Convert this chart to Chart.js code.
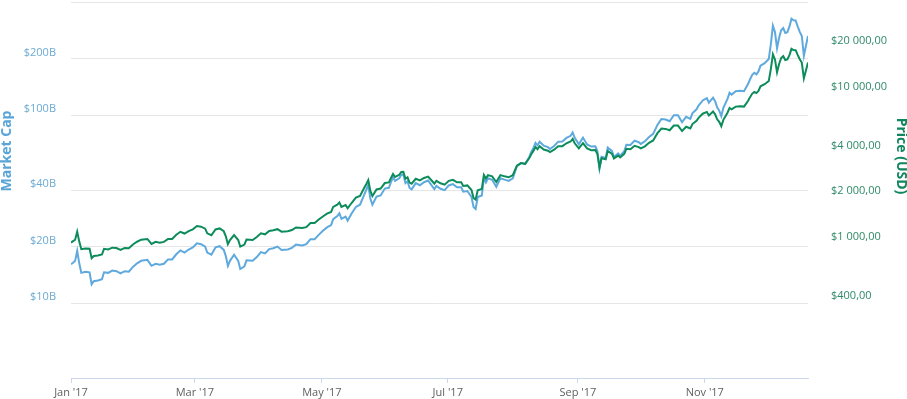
<!DOCTYPE html>
<html>
<head>
<meta charset="utf-8">
<title>Bitcoin 2017 - Market Cap / Price</title>
<script src="https://cdn.jsdelivr.net/npm/chart.js@4.4.1/dist/chart.umd.min.js"></script>
<style>
    html, body { margin: 0; padding: 0; background: #ffffff; }
    #wrap { position: relative; width: 907px; height: 399px; }
</style>
</head>
<body>
<div id="wrap"><canvas id="chart"></canvas></div>
<script>
// Day of the year (0 = 1 Jan 2017) for every sample
const days = [
    0, 1, 2, 3, 4, 5, 7, 9, 10, 11, 13, 15, 16, 18, 20, 22, 24, 26, 28, 30, 32, 34, 37, 39, 41, 43, 45,
    47, 49, 51, 53, 55, 57, 59, 61, 63, 65, 66, 68, 70, 72, 74, 75, 76, 77, 79, 81, 82, 84, 85, 88, 90,
    92, 94, 96, 98, 100, 102, 105, 107, 109, 112, 114, 116, 118, 120, 122, 124, 126, 127, 129, 130, 131, 133, 134,
    136, 138, 140, 142, 143, 144, 145, 146, 148, 150, 152, 154, 155, 156, 157, 159, 160, 161, 162, 163,
    164, 165, 167, 169, 171, 173, 175, 176, 177, 179,
    181, 183, 185, 187, 189, 190, 192, 194, 195, 196, 197, 199, 200, 201, 202, 204, 206, 208, 210, 212,
    214, 216, 218, 220, 222, 223, 224, 225,
    226, 227, 229, 231, 232, 234, 236, 238, 240, 242, 243, 244, 246, 248, 250, 252, 254, 255, 256, 257,
    259, 260, 262, 263, 265, 266, 268, 269,
    271, 273, 275, 276, 278, 280, 282, 284, 286, 288, 290, 292, 294, 296, 298, 300, 301, 303, 304, 306,
    308, 309, 311, 312, 313, 314, 315,
    316, 318, 319, 320, 322, 324, 326, 328, 329, 330, 331, 332, 333, 334, 336, 338, 339, 340, 341, 342,
    343, 344, 345, 346, 347, 348, 349, 350, 351, 352, 353, 354, 355, 356, 357
];

// Market cap, billions of USD
const marketCap = [
    16.1, 16.4, 16.8, 19.0, 16.3, 14.5, 14.7, 14.6, 12.6, 13.1, 13.2, 13.4, 14.6, 14.5, 14.9, 14.8, 14.4, 14.8, 14.7, 15.6, 16.3, 16.8, 17.0, 15.8, 16.2, 16.0, 16.2,
    17.1, 17.1, 18.2, 19.1, 18.6, 19.3, 19.8, 20.8, 20.6, 20.0, 18.6, 18.1, 19.8, 20.1, 19.2, 17.8, 15.8, 16.8, 18.1, 16.8, 15.2, 15.7, 16.9, 16.8, 17.6,
    18.7, 18.4, 19.4, 19.6, 20.0, 19.2, 19.3, 19.7, 20.5, 20.3, 20.6, 21.9, 21.9, 23.1, 24.3, 25.3, 26.0, 28.0, 29.1, 30.1, 28.1, 28.9, 27.5,
    30.1, 32.5, 33.4, 37.7, 40.0, 42.6, 36.0, 33.4, 36.9, 37.4, 40.7, 41.1, 44.1, 46.9, 44.7, 46.2, 48.2, 48.4, 43.5, 44.5,
    41.0, 40.3, 43.5, 42.4, 44.0, 44.9, 41.9, 40.4, 42.1, 40.6,
    39.9, 42.3, 43.0, 41.4, 41.4, 39.2, 39.5, 36.7, 32.5, 31.7, 36.7, 37.4, 46.3, 43.9, 46.2, 45.3, 41.6, 46.2, 45.4, 44.7,
    46.1, 53.5, 55.6, 55.0, 60.0, 63.9, 67.0, 71.2,
    69.1, 72.3, 68.8, 67.6, 66.1, 68.6, 72.3, 72.4, 75.7, 77.7, 80.9, 75.7, 70.0, 76.0, 69.9, 68.1, 68.3, 64.2, 52.1, 60.1,
    59.2, 67.2, 64.6, 60.0, 62.7, 60.9, 64.3, 69.6,
    69.4, 73.2, 71.8, 70.3, 72.6, 76.6, 79.5, 88.5, 95.4, 94.9, 92.9, 99.9, 99.9, 91.8, 98.1, 95.6, 102.3, 107.5, 112.5, 119.8,
    123.1, 116.7, 124.0, 118.7, 110.0, 105.7, 98.9,
    109.5, 122.2, 131.5, 128.7, 134.2, 134.8, 134.2, 146.8, 155.8, 164.0, 168.0, 165.1, 170.9, 183.3, 189.1, 199.0, 238.7, 298.9, 276.7, 227.1,
    258.1, 282.8, 290.8, 274.0, 276.6, 295.7, 325.6, 319.6, 319.2, 296.9, 277.6, 263.9, 207.1, 233.8, 263.9
];

// Price, USD
const priceUsd = [
    998, 1021, 1043, 1180, 1013, 902, 911, 907, 785, 812, 818, 831, 907, 899, 923, 918, 891, 919, 914, 970, 1011, 1044, 1055, 978, 1009, 996, 1009,
    1055, 1056, 1125, 1178, 1147, 1189, 1223, 1286, 1273, 1235, 1150, 1117, 1221, 1240, 1187, 1100, 973, 1036, 1120, 1038, 937, 967, 1045, 1038, 1087,
    1150, 1133, 1191, 1205, 1226, 1180, 1187, 1209, 1258, 1249, 1265, 1346, 1348, 1421, 1490, 1555, 1596, 1723, 1787, 1848, 1725, 1776, 1688,
    1839, 1987, 2041, 2303, 2443, 2600, 2202, 2038, 2255, 2286, 2488, 2511, 2691, 2863, 2732, 2823, 2947, 2958, 2659, 2717,
    2506, 2464, 2655, 2590, 2689, 2745, 2557, 2468, 2574, 2480,
    2426, 2572, 2616, 2519, 2519, 2382, 2400, 2233, 1975, 1929, 2228, 2273, 2817, 2668, 2810, 2754, 2529, 2809, 2757, 2718,
    2805, 3252, 3378, 3342, 3650, 3884, 4073, 4325,
    4181, 4376, 4160, 4087, 4001, 4151, 4372, 4382, 4579, 4703, 4892, 4579, 4236, 4597, 4229, 4122, 4130, 3882, 3154, 3637,
    3582, 4065, 3905, 3631, 3792, 3682, 3892, 4209,
    4174, 4403, 4317, 4229, 4370, 4611, 4781, 5325, 5739, 5711, 5590, 6011, 6008, 5526, 5904, 5753, 6153, 6468, 6767, 7207,
    7407, 7022, 7459, 7143, 6618, 6357, 5950,
    6559, 7315, 7871, 7708, 8036, 8071, 8038, 8790, 9330, 9818, 10059, 9888, 10233, 10975, 11323, 11916, 14291, 17899, 16570, 13600,
    15455, 16936, 17415, 16408, 16564, 17706, 19497, 19140, 19114, 17776, 16624, 15802, 12400, 14000, 15800
];

// Month ticks on the time axis (positions, in days)
const tickDays = [0, 60, 121.5, 182.5, 245.5, 307];
const tickLabels = ["Jan '17", "Mar '17", "May '17", "Jul '17", "Sep '17", "Nov '17"];

// Left axis (market cap, billions)
const capTicks = [10, 20, 40, 100, 200, 400];
const capLabels = ['$10B', '$20B', '$40B', '$100B', '$200B', ''];

// Right axis (price)
const priceTicks = [400, 1000, 2000, 4000, 10000, 20000];
const priceLabels = ['$400,00', '$1 000,00', '$2 000,00', '$4 000,00', '$10 000,00', '$20 000,00'];

const capColor = '#5ea9dd';
const priceColor = '#0c8c5a';

// Axis titles sit a bit above the middle of the axes, so draw them by hand
const axisTitles = {
    id: 'axisTitles',
    afterDraw(chart) {
        const ctx = chart.ctx;
        ctx.save();
        ctx.font = 'bold 14px "Open Sans"';
        ctx.textAlign = 'center';
        ctx.textBaseline = 'middle';
        ctx.fillStyle = '#5aa5d8';
        ctx.translate(7, 151);
        ctx.rotate(-Math.PI / 2);
        ctx.fillText('Market Cap', 0, 0);
        ctx.restore();

        ctx.save();
        ctx.font = 'bold 14px "Open Sans"';
        ctx.textAlign = 'center';
        ctx.textBaseline = 'middle';
        ctx.fillStyle = '#11875f';
        ctx.translate(901, 156);
        ctx.rotate(Math.PI / 2);
        ctx.fillText('Price (USD)', 0, 0);
        ctx.restore();
    }
};

// Fix the size of a vertical axis and drop the extra room for its end labels
function fitVertical(width) {
    return s => {
        s.width = width;
        s.paddingTop = 0;
        s.paddingBottom = 0;
    };
}

const labelFont = { family: 'Open Sans', size: 11 };

new Chart(document.getElementById('chart'), {
    type: 'line',
    data: {
        datasets: [
            {
                label: 'Price (USD)',
                data: days.map((d, i) => ({ x: d, y: priceUsd[i] })),
                yAxisID: 'yPrice',
                borderColor: priceColor,
                borderWidth: 2,
                pointRadius: 0,
                order: 0
            },
            {
                label: 'Market Cap',
                data: days.map((d, i) => ({ x: d, y: marketCap[i] })),
                yAxisID: 'yCap',
                borderColor: capColor,
                borderWidth: 2,
                pointRadius: 0,
                order: 1
            }
        ]
    },
    options: {
        responsive: true,
        maintainAspectRatio: false,
        animation: false,
        layout: { padding: { top: 2 } },
        scales: {
            x: {
                type: 'linear',
                min: 0,
                max: 357,
                afterBuildTicks: s => { s.ticks = tickDays.map(v => ({ value: v })); },
                afterFit: s => { s.height = 21; },
                grid: { drawOnChartArea: false, drawTicks: true, tickLength: 5, color: '#ccd6eb' },
                border: { display: true, color: '#ccd6eb' },
                ticks: {
                    autoSkip: false,
                    maxRotation: 0,
                    padding: 3,
                    color: '#606060',
                    font: labelFont,
                    callback: (v, i) => tickLabels[i]
                }
            },
            yCap: {
                type: 'logarithmic',
                position: 'left',
                min: 4,
                max: 400,
                afterBuildTicks: s => { s.ticks = capTicks.map(v => ({ value: v })); },
                afterFit: fitVertical(71),
                grid: { color: '#e6e6e6', drawTicks: false },
                border: { display: false },
                ticks: {
                    padding: 15,
                    labelOffset: -6,
                    color: '#6caad3',
                    font: labelFont,
                    callback: (v, i) => capLabels[i]
                }
            },
            yPrice: {
                type: 'logarithmic',
                position: 'right',
                min: 125,
                max: 40000,
                afterBuildTicks: s => { s.ticks = priceTicks.map(v => ({ value: v })); },
                afterFit: fitVertical(99),
                grid: { display: false },
                border: { display: false },
                ticks: {
                    padding: 15,
                    labelOffset: -6,
                    color: '#2f8a68',
                    font: labelFont,
                    callback: (v, i) => priceLabels[i]
                }
            }
        },
        plugins: {
            legend: { display: false },
            tooltip: { enabled: false }
        }
    },
    plugins: [axisTitles]
});
</script>
</body>
</html>
